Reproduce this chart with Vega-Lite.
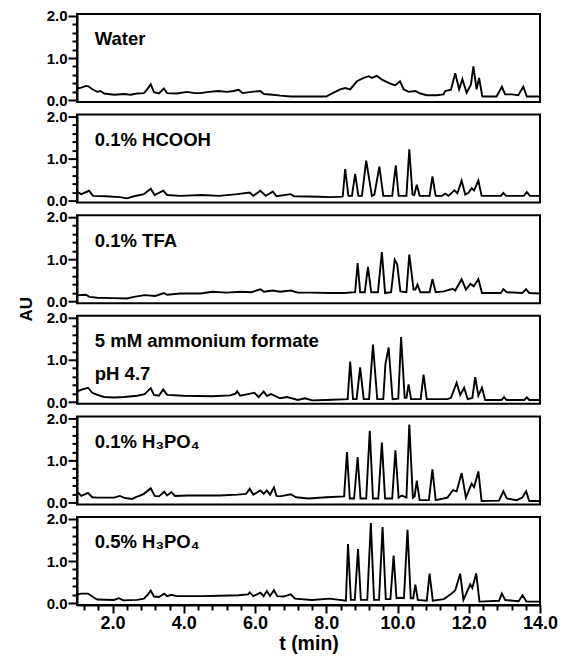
{
"$schema": "https://vega.github.io/schema/vega-lite/v6.json",
"padding": {"left": 16, "top": 7, "right": 2, "bottom": 2},
"bounds": "flush",
"spacing": 12.6,
"datasets": {"tr": [
{"p":"Water","t":1.02,"v":0.28},{"p":"Water","t":1.12,"v":0.30},{"p":"Water","t":1.25,"v":0.34},{"p":"Water","t":1.32,"v":0.33},{"p":"Water","t":1.43,"v":0.26},{"p":"Water","t":1.57,"v":0.20},{"p":"Water","t":1.66,"v":0.22},{"p":"Water","t":1.76,"v":0.16},{"p":"Water","t":2.04,"v":0.13},{"p":"Water","t":2.32,"v":0.15},{"p":"Water","t":2.5,"v":0.13},{"p":"Water","t":2.69,"v":0.16},{"p":"Water","t":2.88,"v":0.17},{"p":"Water","t":2.97,"v":0.26},{"p":"Water","t":3.07,"v":0.38},{"p":"Water","t":3.16,"v":0.19},{"p":"Water","t":3.30,"v":0.16},{"p":"Water","t":3.44,"v":0.28},{"p":"Water","t":3.53,"v":0.17},{"p":"Water","t":3.8,"v":0.16},{"p":"Water","t":4.09,"v":0.20},{"p":"Water","t":4.3,"v":0.17},{"p":"Water","t":4.47,"v":0.17},{"p":"Water","t":4.7,"v":0.20},{"p":"Water","t":4.98,"v":0.22},{"p":"Water","t":5.2,"v":0.20},{"p":"Water","t":5.4,"v":0.22},{"p":"Water","t":5.54,"v":0.25},{"p":"Water","t":5.65,"v":0.17},{"p":"Water","t":5.9,"v":0.20},{"p":"Water","t":6.15,"v":0.22},{"p":"Water","t":6.25,"v":0.15},{"p":"Water","t":6.5,"v":0.13},{"p":"Water","t":6.71,"v":0.11},{"p":"Water","t":7.0,"v":0.09},{"p":"Water","t":7.5,"v":0.09},{"p":"Water","t":8.0,"v":0.09},{"p":"Water","t":8.11,"v":0.14},{"p":"Water","t":8.39,"v":0.26},{"p":"Water","t":8.53,"v":0.29},{"p":"Water","t":8.67,"v":0.26},{"p":"Water","t":8.86,"v":0.45},{"p":"Water","t":9.05,"v":0.53},{"p":"Water","t":9.19,"v":0.57},{"p":"Water","t":9.28,"v":0.53},{"p":"Water","t":9.42,"v":0.58},{"p":"Water","t":9.56,"v":0.49},{"p":"Water","t":9.75,"v":0.41},{"p":"Water","t":9.93,"v":0.35},{"p":"Water","t":10.07,"v":0.45},{"p":"Water","t":10.17,"v":0.26},{"p":"Water","t":10.31,"v":0.20},{"p":"Water","t":10.5,"v":0.22},{"p":"Water","t":10.64,"v":0.16},{"p":"Water","t":10.82,"v":0.12},{"p":"Water","t":11.1,"v":0.12},{"p":"Water","t":11.29,"v":0.14},{"p":"Water","t":11.34,"v":0.22},{"p":"Water","t":11.5,"v":0.25},{"p":"Water","t":11.62,"v":0.64},{"p":"Water","t":11.73,"v":0.26},{"p":"Water","t":11.82,"v":0.50},{"p":"Water","t":11.94,"v":0.18},{"p":"Water","t":12.06,"v":0.37},{"p":"Water","t":12.13,"v":0.80},{"p":"Water","t":12.22,"v":0.26},{"p":"Water","t":12.29,"v":0.53},{"p":"Water","t":12.38,"v":0.09},{"p":"Water","t":12.78,"v":0.09},{"p":"Water","t":12.93,"v":0.32},{"p":"Water","t":13.02,"v":0.14},{"p":"Water","t":13.21,"v":0.14},{"p":"Water","t":13.39,"v":0.12},{"p":"Water","t":13.53,"v":0.32},{"p":"Water","t":13.63,"v":0.09},{"p":"Water","t":14.0,"v":0.09},
{"p":"0.1% HCOOH","t":1.02,"v":0.20},{"p":"0.1% HCOOH","t":1.12,"v":0.16},{"p":"0.1% HCOOH","t":1.34,"v":0.24},{"p":"0.1% HCOOH","t":1.45,"v":0.12},{"p":"0.1% HCOOH","t":1.8,"v":0.11},{"p":"0.1% HCOOH","t":2.2,"v":0.09},{"p":"0.1% HCOOH","t":2.4,"v":0.06},{"p":"0.1% HCOOH","t":2.6,"v":0.11},{"p":"0.1% HCOOH","t":2.88,"v":0.16},{"p":"0.1% HCOOH","t":3.07,"v":0.29},{"p":"0.1% HCOOH","t":3.18,"v":0.14},{"p":"0.1% HCOOH","t":3.42,"v":0.24},{"p":"0.1% HCOOH","t":3.53,"v":0.14},{"p":"0.1% HCOOH","t":3.9,"v":0.12},{"p":"0.1% HCOOH","t":4.5,"v":0.14},{"p":"0.1% HCOOH","t":5.0,"v":0.12},{"p":"0.1% HCOOH","t":5.5,"v":0.16},{"p":"0.1% HCOOH","t":5.85,"v":0.20},{"p":"0.1% HCOOH","t":5.95,"v":0.12},{"p":"0.1% HCOOH","t":6.15,"v":0.24},{"p":"0.1% HCOOH","t":6.3,"v":0.12},{"p":"0.1% HCOOH","t":6.5,"v":0.22},{"p":"0.1% HCOOH","t":6.6,"v":0.11},{"p":"0.1% HCOOH","t":7.0,"v":0.16},{"p":"0.1% HCOOH","t":7.1,"v":0.11},{"p":"0.1% HCOOH","t":7.8,"v":0.10},{"p":"0.1% HCOOH","t":8.11,"v":0.09},{"p":"0.1% HCOOH","t":8.46,"v":0.10},{"p":"0.1% HCOOH","t":8.53,"v":0.75},{"p":"0.1% HCOOH","t":8.62,"v":0.12},{"p":"0.1% HCOOH","t":8.72,"v":0.12},{"p":"0.1% HCOOH","t":8.81,"v":0.64},{"p":"0.1% HCOOH","t":8.9,"v":0.12},{"p":"0.1% HCOOH","t":9.0,"v":0.12},{"p":"0.1% HCOOH","t":9.12,"v":0.95},{"p":"0.1% HCOOH","t":9.28,"v":0.12},{"p":"0.1% HCOOH","t":9.35,"v":0.15},{"p":"0.1% HCOOH","t":9.49,"v":0.81},{"p":"0.1% HCOOH","t":9.6,"v":0.12},{"p":"0.1% HCOOH","t":9.85,"v":0.12},{"p":"0.1% HCOOH","t":9.95,"v":0.84},{"p":"0.1% HCOOH","t":10.03,"v":0.12},{"p":"0.1% HCOOH","t":10.25,"v":0.12},{"p":"0.1% HCOOH","t":10.33,"v":1.22},{"p":"0.1% HCOOH","t":10.42,"v":0.15},{"p":"0.1% HCOOH","t":10.47,"v":0.14},{"p":"0.1% HCOOH","t":10.54,"v":0.38},{"p":"0.1% HCOOH","t":10.62,"v":0.12},{"p":"0.1% HCOOH","t":10.9,"v":0.12},{"p":"0.1% HCOOH","t":10.98,"v":0.58},{"p":"0.1% HCOOH","t":11.07,"v":0.12},{"p":"0.1% HCOOH","t":11.25,"v":0.12},{"p":"0.1% HCOOH","t":11.34,"v":0.17},{"p":"0.1% HCOOH","t":11.43,"v":0.12},{"p":"0.1% HCOOH","t":11.6,"v":0.25},{"p":"0.1% HCOOH","t":11.68,"v":0.18},{"p":"0.1% HCOOH","t":11.8,"v":0.48},{"p":"0.1% HCOOH","t":11.9,"v":0.15},{"p":"0.1% HCOOH","t":12.0,"v":0.20},{"p":"0.1% HCOOH","t":12.08,"v":0.30},{"p":"0.1% HCOOH","t":12.15,"v":0.25},{"p":"0.1% HCOOH","t":12.27,"v":0.48},{"p":"0.1% HCOOH","t":12.36,"v":0.12},{"p":"0.1% HCOOH","t":12.9,"v":0.12},{"p":"0.1% HCOOH","t":12.97,"v":0.19},{"p":"0.1% HCOOH","t":13.05,"v":0.12},{"p":"0.1% HCOOH","t":13.55,"v":0.12},{"p":"0.1% HCOOH","t":13.63,"v":0.21},{"p":"0.1% HCOOH","t":13.72,"v":0.12},{"p":"0.1% HCOOH","t":14.0,"v":0.12},
{"p":"0.1% TFA","t":1.02,"v":0.15},{"p":"0.1% TFA","t":1.25,"v":0.16},{"p":"0.1% TFA","t":1.35,"v":0.11},{"p":"0.1% TFA","t":1.57,"v":0.09},{"p":"0.1% TFA","t":2.0,"v":0.08},{"p":"0.1% TFA","t":2.4,"v":0.07},{"p":"0.1% TFA","t":2.6,"v":0.11},{"p":"0.1% TFA","t":2.9,"v":0.15},{"p":"0.1% TFA","t":3.2,"v":0.13},{"p":"0.1% TFA","t":3.44,"v":0.20},{"p":"0.1% TFA","t":3.53,"v":0.16},{"p":"0.1% TFA","t":3.9,"v":0.19},{"p":"0.1% TFA","t":4.47,"v":0.19},{"p":"0.1% TFA","t":4.8,"v":0.23},{"p":"0.1% TFA","t":5.2,"v":0.21},{"p":"0.1% TFA","t":5.6,"v":0.23},{"p":"0.1% TFA","t":5.9,"v":0.22},{"p":"0.1% TFA","t":6.15,"v":0.29},{"p":"0.1% TFA","t":6.25,"v":0.23},{"p":"0.1% TFA","t":6.5,"v":0.26},{"p":"0.1% TFA","t":6.7,"v":0.23},{"p":"0.1% TFA","t":7.0,"v":0.26},{"p":"0.1% TFA","t":7.2,"v":0.21},{"p":"0.1% TFA","t":7.6,"v":0.21},{"p":"0.1% TFA","t":8.1,"v":0.20},{"p":"0.1% TFA","t":8.5,"v":0.20},{"p":"0.1% TFA","t":8.81,"v":0.22},{"p":"0.1% TFA","t":8.88,"v":0.91},{"p":"0.1% TFA","t":8.95,"v":0.22},{"p":"0.1% TFA","t":9.08,"v":0.22},{"p":"0.1% TFA","t":9.17,"v":0.82},{"p":"0.1% TFA","t":9.26,"v":0.22},{"p":"0.1% TFA","t":9.45,"v":0.22},{"p":"0.1% TFA","t":9.56,"v":1.17},{"p":"0.1% TFA","t":9.65,"v":0.20},{"p":"0.1% TFA","t":9.82,"v":0.22},{"p":"0.1% TFA","t":9.92,"v":0.99},{"p":"0.1% TFA","t":9.99,"v":0.88},{"p":"0.1% TFA","t":10.08,"v":0.24},{"p":"0.1% TFA","t":10.25,"v":0.22},{"p":"0.1% TFA","t":10.33,"v":1.11},{"p":"0.1% TFA","t":10.45,"v":0.28},{"p":"0.1% TFA","t":10.5,"v":0.28},{"p":"0.1% TFA","t":10.56,"v":0.40},{"p":"0.1% TFA","t":10.64,"v":0.22},{"p":"0.1% TFA","t":10.9,"v":0.22},{"p":"0.1% TFA","t":10.98,"v":0.53},{"p":"0.1% TFA","t":11.07,"v":0.22},{"p":"0.1% TFA","t":11.3,"v":0.24},{"p":"0.1% TFA","t":11.55,"v":0.30},{"p":"0.1% TFA","t":11.62,"v":0.26},{"p":"0.1% TFA","t":11.8,"v":0.53},{"p":"0.1% TFA","t":11.92,"v":0.28},{"p":"0.1% TFA","t":12.05,"v":0.42},{"p":"0.1% TFA","t":12.14,"v":0.36},{"p":"0.1% TFA","t":12.27,"v":0.53},{"p":"0.1% TFA","t":12.37,"v":0.20},{"p":"0.1% TFA","t":12.9,"v":0.20},{"p":"0.1% TFA","t":12.97,"v":0.29},{"p":"0.1% TFA","t":13.07,"v":0.22},{"p":"0.1% TFA","t":13.5,"v":0.20},{"p":"0.1% TFA","t":13.61,"v":0.29},{"p":"0.1% TFA","t":13.7,"v":0.20},{"p":"0.1% TFA","t":14.0,"v":0.19},
{"p":"5 mM ammonium formate\npH 4.7","t":1.02,"v":0.26},{"p":"5 mM ammonium formate\npH 4.7","t":1.15,"v":0.30},{"p":"5 mM ammonium formate\npH 4.7","t":1.31,"v":0.34},{"p":"5 mM ammonium formate\npH 4.7","t":1.43,"v":0.22},{"p":"5 mM ammonium formate\npH 4.7","t":1.57,"v":0.17},{"p":"5 mM ammonium formate\npH 4.7","t":1.76,"v":0.12},{"p":"5 mM ammonium formate\npH 4.7","t":2.04,"v":0.11},{"p":"5 mM ammonium formate\npH 4.7","t":2.32,"v":0.12},{"p":"5 mM ammonium formate\npH 4.7","t":2.69,"v":0.15},{"p":"5 mM ammonium formate\npH 4.7","t":2.9,"v":0.19},{"p":"5 mM ammonium formate\npH 4.7","t":3.07,"v":0.33},{"p":"5 mM ammonium formate\npH 4.7","t":3.16,"v":0.17},{"p":"5 mM ammonium formate\npH 4.7","t":3.3,"v":0.15},{"p":"5 mM ammonium formate\npH 4.7","t":3.42,"v":0.30},{"p":"5 mM ammonium formate\npH 4.7","t":3.53,"v":0.17},{"p":"5 mM ammonium formate\npH 4.7","t":4.0,"v":0.15},{"p":"5 mM ammonium formate\npH 4.7","t":4.8,"v":0.14},{"p":"5 mM ammonium formate\npH 4.7","t":5.3,"v":0.16},{"p":"5 mM ammonium formate\npH 4.7","t":5.45,"v":0.20},{"p":"5 mM ammonium formate\npH 4.7","t":5.5,"v":0.26},{"p":"5 mM ammonium formate\npH 4.7","t":5.58,"v":0.15},{"p":"5 mM ammonium formate\npH 4.7","t":5.8,"v":0.19},{"p":"5 mM ammonium formate\npH 4.7","t":5.98,"v":0.22},{"p":"5 mM ammonium formate\npH 4.7","t":6.1,"v":0.12},{"p":"5 mM ammonium formate\npH 4.7","t":6.24,"v":0.25},{"p":"5 mM ammonium formate\npH 4.7","t":6.33,"v":0.15},{"p":"5 mM ammonium formate\npH 4.7","t":6.45,"v":0.19},{"p":"5 mM ammonium formate\npH 4.7","t":6.7,"v":0.09},{"p":"5 mM ammonium formate\npH 4.7","t":6.9,"v":0.12},{"p":"5 mM ammonium formate\npH 4.7","t":7.2,"v":0.05},{"p":"5 mM ammonium formate\npH 4.7","t":7.4,"v":0.09},{"p":"5 mM ammonium formate\npH 4.7","t":7.6,"v":0.04},{"p":"5 mM ammonium formate\npH 4.7","t":8.0,"v":0.05},{"p":"5 mM ammonium formate\npH 4.7","t":8.6,"v":0.07},{"p":"5 mM ammonium formate\npH 4.7","t":8.67,"v":0.96},{"p":"5 mM ammonium formate\npH 4.7","t":8.75,"v":0.07},{"p":"5 mM ammonium formate\npH 4.7","t":8.85,"v":0.07},{"p":"5 mM ammonium formate\npH 4.7","t":8.95,"v":0.82},{"p":"5 mM ammonium formate\npH 4.7","t":9.05,"v":0.07},{"p":"5 mM ammonium formate\npH 4.7","t":9.2,"v":0.07},{"p":"5 mM ammonium formate\npH 4.7","t":9.31,"v":1.36},{"p":"5 mM ammonium formate\npH 4.7","t":9.43,"v":0.07},{"p":"5 mM ammonium formate\npH 4.7","t":9.6,"v":0.07},{"p":"5 mM ammonium formate\npH 4.7","t":9.66,"v":0.90},{"p":"5 mM ammonium formate\npH 4.7","t":9.75,"v":1.29},{"p":"5 mM ammonium formate\npH 4.7","t":9.86,"v":0.07},{"p":"5 mM ammonium formate\npH 4.7","t":10.02,"v":0.08},{"p":"5 mM ammonium formate\npH 4.7","t":10.1,"v":1.54},{"p":"5 mM ammonium formate\npH 4.7","t":10.2,"v":0.10},{"p":"5 mM ammonium formate\npH 4.7","t":10.25,"v":0.10},{"p":"5 mM ammonium formate\npH 4.7","t":10.31,"v":0.42},{"p":"5 mM ammonium formate\npH 4.7","t":10.38,"v":0.07},{"p":"5 mM ammonium formate\npH 4.7","t":10.65,"v":0.07},{"p":"5 mM ammonium formate\npH 4.7","t":10.73,"v":0.65},{"p":"5 mM ammonium formate\npH 4.7","t":10.82,"v":0.07},{"p":"5 mM ammonium formate\npH 4.7","t":11.4,"v":0.07},{"p":"5 mM ammonium formate\npH 4.7","t":11.5,"v":0.10},{"p":"5 mM ammonium formate\npH 4.7","t":11.66,"v":0.46},{"p":"5 mM ammonium formate\npH 4.7","t":11.76,"v":0.17},{"p":"5 mM ammonium formate\npH 4.7","t":11.87,"v":0.34},{"p":"5 mM ammonium formate\npH 4.7","t":11.97,"v":0.07},{"p":"5 mM ammonium formate\npH 4.7","t":12.1,"v":0.10},{"p":"5 mM ammonium formate\npH 4.7","t":12.18,"v":0.59},{"p":"5 mM ammonium formate\npH 4.7","t":12.27,"v":0.15},{"p":"5 mM ammonium formate\npH 4.7","t":12.37,"v":0.34},{"p":"5 mM ammonium formate\npH 4.7","t":12.46,"v":0.05},{"p":"5 mM ammonium formate\npH 4.7","t":12.92,"v":0.05},{"p":"5 mM ammonium formate\npH 4.7","t":12.99,"v":0.12},{"p":"5 mM ammonium formate\npH 4.7","t":13.06,"v":0.05},{"p":"5 mM ammonium formate\npH 4.7","t":13.56,"v":0.05},{"p":"5 mM ammonium formate\npH 4.7","t":13.63,"v":0.11},{"p":"5 mM ammonium formate\npH 4.7","t":13.7,"v":0.05},{"p":"5 mM ammonium formate\npH 4.7","t":14.0,"v":0.05},
{"p":"0.1% H₃PO₄","t":1.02,"v":0.25},{"p":"0.1% H₃PO₄","t":1.12,"v":0.16},{"p":"0.1% H₃PO₄","t":1.31,"v":0.23},{"p":"0.1% H₃PO₄","t":1.43,"v":0.13},{"p":"0.1% H₃PO₄","t":1.57,"v":0.12},{"p":"0.1% H₃PO₄","t":2.04,"v":0.12},{"p":"0.1% H₃PO₄","t":2.2,"v":0.16},{"p":"0.1% H₃PO₄","t":2.35,"v":0.11},{"p":"0.1% H₃PO₄","t":2.55,"v":0.09},{"p":"0.1% H₃PO₄","t":2.65,"v":0.13},{"p":"0.1% H₃PO₄","t":2.75,"v":0.16},{"p":"0.1% H₃PO₄","t":2.88,"v":0.21},{"p":"0.1% H₃PO₄","t":3.07,"v":0.34},{"p":"0.1% H₃PO₄","t":3.18,"v":0.16},{"p":"0.1% H₃PO₄","t":3.3,"v":0.15},{"p":"0.1% H₃PO₄","t":3.45,"v":0.26},{"p":"0.1% H₃PO₄","t":3.53,"v":0.17},{"p":"0.1% H₃PO₄","t":3.65,"v":0.25},{"p":"0.1% H₃PO₄","t":3.75,"v":0.16},{"p":"0.1% H₃PO₄","t":4.1,"v":0.17},{"p":"0.1% H₃PO₄","t":4.5,"v":0.17},{"p":"0.1% H₃PO₄","t":5.0,"v":0.17},{"p":"0.1% H₃PO₄","t":5.5,"v":0.19},{"p":"0.1% H₃PO₄","t":5.75,"v":0.21},{"p":"0.1% H₃PO₄","t":5.85,"v":0.33},{"p":"0.1% H₃PO₄","t":5.95,"v":0.19},{"p":"0.1% H₃PO₄","t":6.15,"v":0.29},{"p":"0.1% H₃PO₄","t":6.24,"v":0.21},{"p":"0.1% H₃PO₄","t":6.33,"v":0.29},{"p":"0.1% H₃PO₄","t":6.42,"v":0.19},{"p":"0.1% H₃PO₄","t":6.53,"v":0.36},{"p":"0.1% H₃PO₄","t":6.6,"v":0.16},{"p":"0.1% H₃PO₄","t":6.7,"v":0.15},{"p":"0.1% H₃PO₄","t":7.0,"v":0.20},{"p":"0.1% H₃PO₄","t":7.15,"v":0.13},{"p":"0.1% H₃PO₄","t":7.5,"v":0.10},{"p":"0.1% H₃PO₄","t":8.0,"v":0.13},{"p":"0.1% H₃PO₄","t":8.5,"v":0.15},{"p":"0.1% H₃PO₄","t":8.58,"v":1.20},{"p":"0.1% H₃PO₄","t":8.66,"v":0.10},{"p":"0.1% H₃PO₄","t":8.78,"v":0.10},{"p":"0.1% H₃PO₄","t":8.88,"v":1.08},{"p":"0.1% H₃PO₄","t":8.96,"v":0.10},{"p":"0.1% H₃PO₄","t":9.12,"v":0.10},{"p":"0.1% H₃PO₄","t":9.22,"v":1.70},{"p":"0.1% H₃PO₄","t":9.31,"v":0.10},{"p":"0.1% H₃PO₄","t":9.46,"v":0.10},{"p":"0.1% H₃PO₄","t":9.56,"v":1.42},{"p":"0.1% H₃PO₄","t":9.65,"v":0.10},{"p":"0.1% H₃PO₄","t":9.85,"v":0.10},{"p":"0.1% H₃PO₄","t":9.94,"v":1.24},{"p":"0.1% H₃PO₄","t":10.03,"v":0.12},{"p":"0.1% H₃PO₄","t":10.12,"v":0.17},{"p":"0.1% H₃PO₄","t":10.25,"v":0.12},{"p":"0.1% H₃PO₄","t":10.33,"v":1.85},{"p":"0.1% H₃PO₄","t":10.43,"v":0.12},{"p":"0.1% H₃PO₄","t":10.48,"v":0.15},{"p":"0.1% H₃PO₄","t":10.54,"v":0.52},{"p":"0.1% H₃PO₄","t":10.62,"v":0.06},{"p":"0.1% H₃PO₄","t":10.88,"v":0.06},{"p":"0.1% H₃PO₄","t":10.98,"v":0.79},{"p":"0.1% H₃PO₄","t":11.07,"v":0.06},{"p":"0.1% H₃PO₄","t":11.4,"v":0.12},{"p":"0.1% H₃PO₄","t":11.56,"v":0.30},{"p":"0.1% H₃PO₄","t":11.66,"v":0.27},{"p":"0.1% H₃PO₄","t":11.8,"v":0.70},{"p":"0.1% H₃PO₄","t":11.92,"v":0.12},{"p":"0.1% H₃PO₄","t":12.08,"v":0.45},{"p":"0.1% H₃PO₄","t":12.15,"v":0.37},{"p":"0.1% H₃PO₄","t":12.27,"v":0.74},{"p":"0.1% H₃PO₄","t":12.36,"v":0.04},{"p":"0.1% H₃PO₄","t":12.85,"v":0.05},{"p":"0.1% H₃PO₄","t":12.97,"v":0.27},{"p":"0.1% H₃PO₄","t":13.07,"v":0.10},{"p":"0.1% H₃PO₄","t":13.35,"v":0.06},{"p":"0.1% H₃PO₄","t":13.5,"v":0.12},{"p":"0.1% H₃PO₄","t":13.61,"v":0.27},{"p":"0.1% H₃PO₄","t":13.7,"v":0.04},{"p":"0.1% H₃PO₄","t":14.0,"v":0.04},
{"p":"0.5% H₃PO₄","t":1.02,"v":0.21},{"p":"0.5% H₃PO₄","t":1.12,"v":0.23},{"p":"0.5% H₃PO₄","t":1.31,"v":0.23},{"p":"0.5% H₃PO₄","t":1.48,"v":0.13},{"p":"0.5% H₃PO₄","t":1.57,"v":0.09},{"p":"0.5% H₃PO₄","t":2.04,"v":0.08},{"p":"0.5% H₃PO₄","t":2.17,"v":0.12},{"p":"0.5% H₃PO₄","t":2.3,"v":0.07},{"p":"0.5% H₃PO₄","t":2.69,"v":0.08},{"p":"0.5% H₃PO₄","t":2.88,"v":0.11},{"p":"0.5% H₃PO₄","t":2.97,"v":0.19},{"p":"0.5% H₃PO₄","t":3.07,"v":0.30},{"p":"0.5% H₃PO₄","t":3.16,"v":0.16},{"p":"0.5% H₃PO₄","t":3.3,"v":0.15},{"p":"0.5% H₃PO₄","t":3.45,"v":0.23},{"p":"0.5% H₃PO₄","t":3.53,"v":0.17},{"p":"0.5% H₃PO₄","t":3.65,"v":0.20},{"p":"0.5% H₃PO₄","t":3.8,"v":0.17},{"p":"0.5% H₃PO₄","t":4.5,"v":0.17},{"p":"0.5% H₃PO₄","t":5.0,"v":0.18},{"p":"0.5% H₃PO₄","t":5.54,"v":0.19},{"p":"0.5% H₃PO₄","t":5.8,"v":0.21},{"p":"0.5% H₃PO₄","t":5.85,"v":0.26},{"p":"0.5% H₃PO₄","t":5.95,"v":0.17},{"p":"0.5% H₃PO₄","t":6.15,"v":0.25},{"p":"0.5% H₃PO₄","t":6.24,"v":0.17},{"p":"0.5% H₃PO₄","t":6.33,"v":0.29},{"p":"0.5% H₃PO₄","t":6.42,"v":0.17},{"p":"0.5% H₃PO₄","t":6.53,"v":0.31},{"p":"0.5% H₃PO₄","t":6.62,"v":0.17},{"p":"0.5% H₃PO₄","t":6.8,"v":0.16},{"p":"0.5% H₃PO₄","t":7.0,"v":0.21},{"p":"0.5% H₃PO₄","t":7.12,"v":0.11},{"p":"0.5% H₃PO₄","t":7.6,"v":0.08},{"p":"0.5% H₃PO₄","t":8.1,"v":0.11},{"p":"0.5% H₃PO₄","t":8.55,"v":0.06},{"p":"0.5% H₃PO₄","t":8.61,"v":1.40},{"p":"0.5% H₃PO₄","t":8.69,"v":0.08},{"p":"0.5% H₃PO₄","t":8.8,"v":0.08},{"p":"0.5% H₃PO₄","t":8.89,"v":1.28},{"p":"0.5% H₃PO₄","t":8.97,"v":0.08},{"p":"0.5% H₃PO₄","t":9.15,"v":0.08},{"p":"0.5% H₃PO₄","t":9.25,"v":1.90},{"p":"0.5% H₃PO₄","t":9.34,"v":0.08},{"p":"0.5% H₃PO₄","t":9.48,"v":0.08},{"p":"0.5% H₃PO₄","t":9.58,"v":1.80},{"p":"0.5% H₃PO₄","t":9.67,"v":0.10},{"p":"0.5% H₃PO₄","t":9.8,"v":0.10},{"p":"0.5% H₃PO₄","t":9.89,"v":1.13},{"p":"0.5% H₃PO₄","t":9.97,"v":0.12},{"p":"0.5% H₃PO₄","t":10.08,"v":0.13},{"p":"0.5% H₃PO₄","t":10.18,"v":0.12},{"p":"0.5% H₃PO₄","t":10.28,"v":1.74},{"p":"0.5% H₃PO₄","t":10.37,"v":0.12},{"p":"0.5% H₃PO₄","t":10.44,"v":0.12},{"p":"0.5% H₃PO₄","t":10.5,"v":0.44},{"p":"0.5% H₃PO₄","t":10.57,"v":0.08},{"p":"0.5% H₃PO₄","t":10.82,"v":0.06},{"p":"0.5% H₃PO₄","t":10.9,"v":0.70},{"p":"0.5% H₃PO₄","t":10.99,"v":0.06},{"p":"0.5% H₃PO₄","t":11.3,"v":0.10},{"p":"0.5% H₃PO₄","t":11.52,"v":0.23},{"p":"0.5% H₃PO₄","t":11.62,"v":0.31},{"p":"0.5% H₃PO₄","t":11.76,"v":0.70},{"p":"0.5% H₃PO₄","t":11.85,"v":0.08},{"p":"0.5% H₃PO₄","t":12.04,"v":0.45},{"p":"0.5% H₃PO₄","t":12.1,"v":0.36},{"p":"0.5% H₃PO₄","t":12.21,"v":0.71},{"p":"0.5% H₃PO₄","t":12.3,"v":0.04},{"p":"0.5% H₃PO₄","t":12.85,"v":0.06},{"p":"0.5% H₃PO₄","t":12.93,"v":0.23},{"p":"0.5% H₃PO₄","t":13.02,"v":0.08},{"p":"0.5% H₃PO₄","t":13.25,"v":0.06},{"p":"0.5% H₃PO₄","t":13.4,"v":0.05},{"p":"0.5% H₃PO₄","t":13.51,"v":0.19},{"p":"0.5% H₃PO₄","t":13.62,"v":0.04},{"p":"0.5% H₃PO₄","t":14.0,"v":0.04}
]},
"data": {"name": "tr"},
"vconcat": [
 {"transform": [{"filter": {"field": "p", "equal": "Water"}}], "width": 463, "height": 88, "resolve": {"axis": {"y": "independent"}},
  "layer": [
   {"mark": "line", "encoding": {
     "x": {"field": "t", "type": "quantitative", "scale": {"domain": [1, 14], "nice": false, "zero": false}, "axis": null},
     "y": {"field": "v", "type": "quantitative", "scale": {"domain": [-0.04, 2.04], "nice": false, "zero": false}, "axis": {"title": null, "values": [0, 1, 2], "format": ".1f"}}}},
   {"transform": [{"aggregate": [{"op": "count", "as": "n"}], "groupby": ["p"]}], "mark": "text",
    "encoding": {"text": {"field": "p"}, "x": {"datum": 1.5}, "y": {"datum": 1.3, "axis": {"orient": "left", "title": null, "labels": false, "domain": false, "tickSize": 5, "values": [0.2,0.4,0.6,0.8,1.2,1.4,1.6,1.8]}}}}]},
 {"transform": [{"filter": {"field": "p", "equal": "0.1% HCOOH"}}], "width": 463, "height": 88, "resolve": {"axis": {"y": "independent"}},
  "layer": [
   {"mark": "line", "encoding": {
     "x": {"field": "t", "type": "quantitative", "scale": {"domain": [1, 14], "nice": false, "zero": false}, "axis": null},
     "y": {"field": "v", "type": "quantitative", "scale": {"domain": [-0.04, 2.04], "nice": false, "zero": false}, "axis": {"title": null, "values": [0, 1, 2], "format": ".1f"}}}},
   {"transform": [{"aggregate": [{"op": "count", "as": "n"}], "groupby": ["p"]}], "mark": "text",
    "encoding": {"text": {"field": "p"}, "x": {"datum": 1.5}, "y": {"datum": 1.3, "axis": {"orient": "left", "title": null, "labels": false, "domain": false, "tickSize": 5, "values": [0.2,0.4,0.6,0.8,1.2,1.4,1.6,1.8]}}}}]},
 {"transform": [{"filter": {"field": "p", "equal": "0.1% TFA"}}], "width": 463, "height": 88, "resolve": {"axis": {"y": "independent"}},
  "layer": [
   {"mark": "line", "encoding": {
     "x": {"field": "t", "type": "quantitative", "scale": {"domain": [1, 14], "nice": false, "zero": false}, "axis": null},
     "y": {"field": "v", "type": "quantitative", "scale": {"domain": [-0.04, 2.04], "nice": false, "zero": false}, "axis": {"title": null, "values": [0, 1, 2], "format": ".1f"}}}},
   {"transform": [{"aggregate": [{"op": "count", "as": "n"}], "groupby": ["p"]}], "mark": "text",
    "encoding": {"text": {"field": "p"}, "x": {"datum": 1.5}, "y": {"datum": 1.3, "axis": {"orient": "left", "title": null, "labels": false, "domain": false, "tickSize": 5, "values": [0.2,0.4,0.6,0.8,1.2,1.4,1.6,1.8]}}}}]},
 {"transform": [{"filter": {"field": "p", "equal": "5 mM ammonium formate\npH 4.7"}}], "width": 463, "height": 88, "resolve": {"axis": {"y": "independent"}},
  "layer": [
   {"mark": "line", "encoding": {
     "x": {"field": "t", "type": "quantitative", "scale": {"domain": [1, 14], "nice": false, "zero": false}, "axis": null},
     "y": {"field": "v", "type": "quantitative", "scale": {"domain": [-0.04, 2.04], "nice": false, "zero": false}, "axis": {"title": "AU", "titleFontSize": 17, "titleY": -7, "titleAlign": "center", "titlePadding": 11, "values": [0, 1, 2], "format": ".1f"}}}},
   {"transform": [{"aggregate": [{"op": "count", "as": "n"}], "groupby": ["p"]}], "mark": "text",
    "encoding": {"text": {"field": "p"}, "x": {"datum": 1.5}, "y": {"datum": 1.3, "axis": {"orient": "left", "title": null, "labels": false, "domain": false, "tickSize": 5, "values": [0.2,0.4,0.6,0.8,1.2,1.4,1.6,1.8]}}}}]},
 {"transform": [{"filter": {"field": "p", "equal": "0.1% H₃PO₄"}}], "width": 463, "height": 88, "resolve": {"axis": {"y": "independent"}},
  "layer": [
   {"mark": "line", "encoding": {
     "x": {"field": "t", "type": "quantitative", "scale": {"domain": [1, 14], "nice": false, "zero": false}, "axis": null},
     "y": {"field": "v", "type": "quantitative", "scale": {"domain": [-0.04, 2.04], "nice": false, "zero": false}, "axis": {"title": null, "values": [0, 1, 2], "format": ".1f"}}}},
   {"transform": [{"aggregate": [{"op": "count", "as": "n"}], "groupby": ["p"]}], "mark": "text",
    "encoding": {"text": {"field": "p"}, "x": {"datum": 1.5}, "y": {"datum": 1.3, "axis": {"orient": "left", "title": null, "labels": false, "domain": false, "tickSize": 5, "values": [0.2,0.4,0.6,0.8,1.2,1.4,1.6,1.8]}}}}]},
 {"transform": [{"filter": {"field": "p", "equal": "0.5% H₃PO₄"}}], "width": 463, "height": 88, "resolve": {"axis": {"y": "independent", "x": "independent"}},
  "layer": [
   {"mark": "line", "encoding": {
     "x": {"field": "t", "type": "quantitative", "scale": {"domain": [1, 14], "nice": false, "zero": false},
       "axis": {"title": "t (min)", "titleFontSize": 19.5, "titlePadding": 2, "labelPadding": 1, "labelFontSize": 18, "tickSize": 8, "values": [2, 4, 6, 8, 10, 12, 14], "format": ".1f", "labelFlush": false}},
     "y": {"field": "v", "type": "quantitative", "scale": {"domain": [-0.04, 2.04], "nice": false, "zero": false}, "axis": {"title": null, "values": [0, 1, 2], "format": ".1f"}}}},
   {"transform": [{"aggregate": [{"op": "count", "as": "n"}], "groupby": ["p"]}], "mark": "text",
    "encoding": {"text": {"field": "p"},
      "x": {"datum": 1.5, "axis": {"orient": "bottom", "title": null, "labels": false, "domain": false, "tickSize": 5, "values": [1.2,1.6,2.4,2.8,3.2,3.6,4.4,4.8,5.2,5.6,6.4,6.8,7.2,7.6,8.4,8.8,9.2,9.6,10.4,10.8,11.2,11.6,12.4,12.8,13.2,13.6]}},
      "y": {"datum": 1.3, "axis": {"orient": "left", "title": null, "labels": false, "domain": false, "tickSize": 5, "values": [0.2,0.4,0.6,0.8,1.2,1.4,1.6,1.8]}}}}]}
],
"config": {
  "view": {"stroke": "black", "strokeWidth": 2},
  "line": {"color": "black", "strokeWidth": 1.9, "strokeJoin": "miter"},
  "text": {"align": "left", "baseline": "alphabetic", "font": "Liberation Sans", "fontSize": 18.5, "fontWeight": "bold", "color": "black", "lineBreak": "\n", "lineHeight": 33},
  "axis": {"grid": false, "domainColor": "black", "domainWidth": 2, "tickColor": "black", "tickWidth": 2, "tickSize": 9,
    "labelFont": "Liberation Sans", "labelFontSize": 15, "labelFontWeight": "bold", "labelColor": "black", "labelPadding": 1,
    "titleFont": "Liberation Sans", "titleFontSize": 18, "titleFontWeight": "bold", "titleColor": "black"}
}
}
